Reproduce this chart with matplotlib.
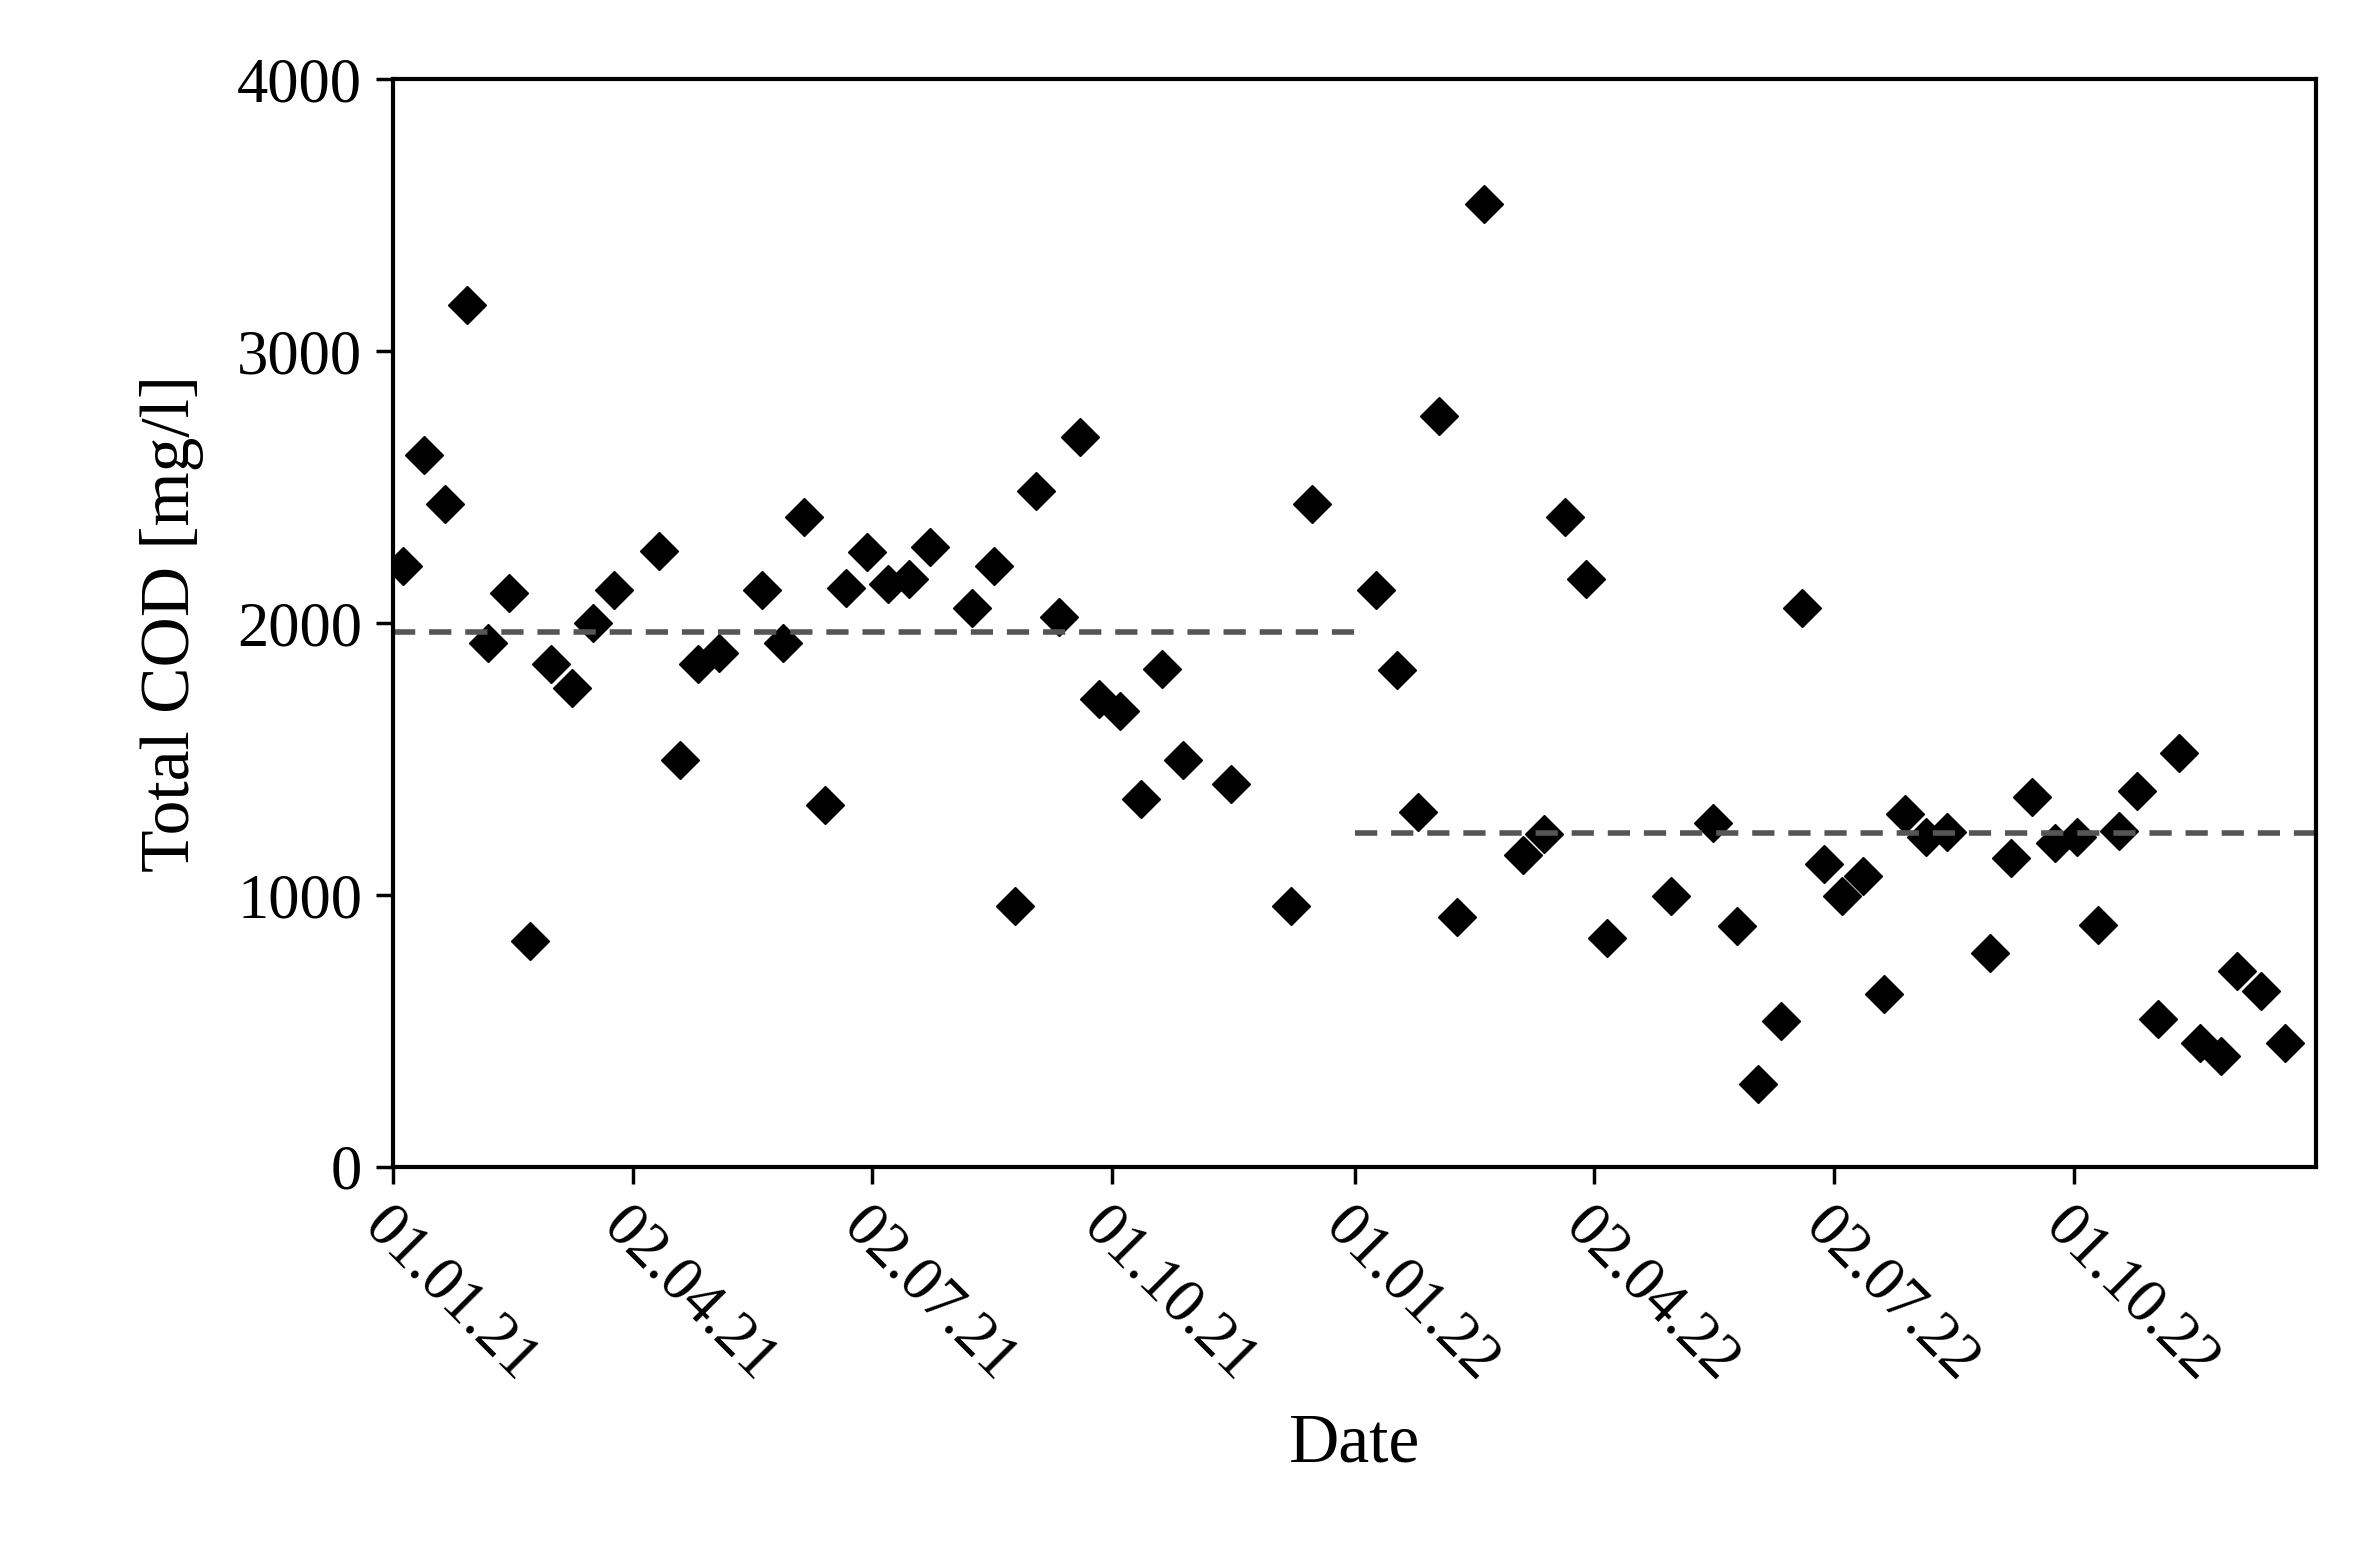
import matplotlib
matplotlib.use("Agg")
import matplotlib.pyplot as plt

# days since 01.01.21 and total COD [mg/l]
days = [4, 12, 20, 28, 36, 44, 52, 60, 68, 76, 84, 101, 109, 116, 124, 140, 148, 156,
        164, 172, 180, 188, 196, 204, 220, 228, 236, 244, 253, 261, 268, 276, 284, 292,
        300, 318, 341, 349, 373, 381, 389, 397, 404, 414, 429, 437, 445, 453, 461, 485,
        501, 510, 518, 527, 535, 543, 550, 558, 566, 574, 582, 590, 606, 614, 622, 631,
        639, 647, 655, 662, 670, 678, 686, 694, 700, 709, 718]
cod = [2212, 2618, 2440, 3170, 1928, 2111, 830, 1850, 1760, 2000, 2122, 2267, 1498, 1850,
       1889, 2122, 1928, 2390, 1331, 2128, 2262, 2145, 2162, 2279, 2056, 2212, 958, 2485,
       2022, 2685, 1721, 1677, 1354, 1833, 1498, 1409, 958, 2440, 2122, 1827, 1304, 2763,
       919, 3543, 1148, 1226, 2390, 2162, 841, 997, 1265, 886, 306, 535, 2056, 1114, 997,
       1070, 635, 1298, 1215, 1231, 786, 1136, 1359, 1192, 1215, 891, 1237, 1382, 546,
       1521, 457, 407, 719, 646, 457]

mean_spans = [(0, 365), (365, 730)]
mean_values = [1967, 1228]

tick_days = [0, 91, 182, 273, 365, 456, 547, 638]
tick_labels = ["01.01.21", "02.04.21", "02.07.21", "01.10.21",
               "01.01.22", "02.04.22", "02.07.22", "01.10.22"]

plt.rcParams["font.family"] = ["Liberation Serif", "DejaVu Serif"]

fig = plt.figure(figsize=(23.66, 15.58), dpi=100)
ax = fig.add_axes([0.166, 0.251, 0.813, 0.698])

ax.plot(days, cod, ls="none", marker="D", ms=19, color="black")
for (x0, x1), m in zip(mean_spans, mean_values):
    ax.plot([x0, x1], [m, m], ls=(0, (4, 2.5)), lw=4, color="#555555")

ax.set_xlim(0, 730)
ax.set_ylim(0, 4000)
ax.set_yticks([0, 1000, 2000, 3000, 4000])
ax.set_xticks(tick_days)
ax.set_xticklabels(tick_labels, rotation=-45, ha="left", va="top", rotation_mode="anchor")
ax.tick_params(direction="out", length=12, width=2.5, labelsize=45, pad=10)
for s in ax.spines.values():
    s.set_linewidth(3)

ax.set_xlabel("Date", fontsize=50, labelpad=14)
ax.set_ylabel("Total COD [mg/l]", fontsize=50, labelpad=24)

fig.savefig("out.png", dpi=100)
